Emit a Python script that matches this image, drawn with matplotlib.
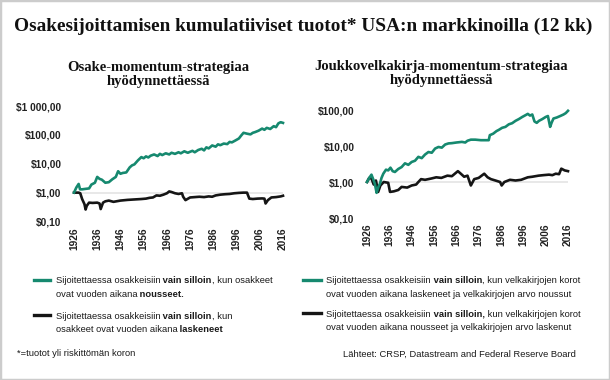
import matplotlib
matplotlib.use('Agg')
import matplotlib.pyplot as plt
from matplotlib import font_manager
from matplotlib.lines import Line2D
from matplotlib.patches import Rectangle

# --- data ---
stock_years_up = [1926, 1927, 1928, 1928.6, 1929.5, 1931, 1932.5, 1933.5, 1935, 1936, 1937, 1938,
                  1939.5, 1941, 1942.5, 1944, 1945, 1946, 1947, 1948.5, 1950, 1951, 1952, 1953.5,
                  1955, 1956, 1957, 1958, 1959, 1960.5, 1962, 1963, 1964, 1965.5, 1967, 1968,
                  1969.5, 1971, 1972, 1973.5, 1975, 1976, 1977, 1978, 1979.5, 1981, 1982, 1983,
                  1984, 1985.5, 1987, 1988, 1989, 1990.5, 1992, 1993, 1994, 1995.5, 1997, 1998,
                  1999, 2000.5, 2002, 2003, 2004, 2005.5, 2007, 2008, 2009, 2010.5, 2012, 2013,
                  2014, 2015, 2016]
stock_up = [1.0, 1.5, 2.0, 1.3, 1.3, 1.35, 1.4, 1.9, 2.2, 3.5, 3.0, 2.8,
            2.2, 2.3, 2.9, 3.5, 5.5, 4.5, 4.8, 5.0, 7.5, 8.8, 9.5, 13,
            17, 15.5, 18, 16.5, 19, 21, 18.5, 22, 20, 23, 21, 24,
            22, 25, 23, 27, 24, 26, 28, 25, 30, 33, 29, 37,
            34, 43, 39, 47, 44, 50, 48, 57, 55, 64, 75, 95,
            118, 110, 104, 118, 125, 140, 165, 150, 175, 160, 200, 185,
            250, 275, 260]

stock_years_down = [1926, 1928, 1928.7, 1929.5, 1930.5, 1931, 1931.5, 1932.5, 1934, 1936, 1937,
                    1937.5, 1938.5, 1939.5, 1941, 1943, 1946, 1949, 1952, 1955, 1957, 1958.5,
                    1960, 1961.5, 1963, 1964.5, 1966, 1967, 1968, 1969.5, 1971, 1972.5, 1973,
                    1974, 1976, 1978, 1980, 1982, 1984, 1985.5, 1987, 1989, 1991, 1993, 1995,
                    1997, 1999, 2000.5, 2001.5, 2003, 2005, 2007, 2008, 2008.5, 2009.5, 2011,
                    2013, 2015, 2016]
stock_down = [1.0, 1.0, 0.95, 0.6, 0.4, 0.26, 0.35, 0.45, 0.44, 0.45, 0.42,
              0.27, 0.45, 0.5, 0.53, 0.48, 0.53, 0.56, 0.58, 0.6, 0.62, 0.66,
              0.68, 0.8, 0.78, 0.85, 0.95, 1.1, 1.05, 0.95, 0.9, 0.95, 0.72,
              0.55, 0.68, 0.7, 0.72, 0.7, 0.74, 0.72, 0.8, 0.85, 0.88, 0.9, 0.95,
              0.98, 1.0, 1.0, 0.62, 0.6, 0.62, 0.63, 0.62, 0.42, 0.55, 0.68,
              0.7, 0.74, 0.78]

bond_years_up = [1926, 1927, 1928, 1929, 1929.5, 1930.3, 1931, 1931.8, 1932.5, 1933.3, 1934.5,
                 1935.5, 1936.5, 1937.5, 1938.5, 1940, 1941.5, 1943, 1944.5, 1946, 1947.5, 1949,
                 1950.5, 1952, 1953.5, 1955, 1956.5, 1958, 1959.5, 1961, 1962.5, 1964, 1966,
                 1968.5, 1970, 1971, 1972.5, 1974.5, 1977, 1980.5, 1981, 1982.5, 1984, 1985,
                 1986.5, 1988, 1989.5, 1991, 1992.5, 1994, 1995.5, 1997, 1998, 1999, 2000,
                 2001, 2002, 2003, 2004.5, 2006, 2007, 2008, 2008.7, 2009.5, 2011, 2012.5,
                 2014, 2015, 2016]
bond_up = [1.0, 1.3, 1.6, 1.1, 0.9, 0.5, 0.7, 0.9, 1.3, 1.7, 2.2,
           2.1, 2.5, 2.0, 1.9, 2.3, 2.6, 3.3, 3.0, 3.6, 3.9, 5.0,
           4.6, 5.8, 6.8, 6.5, 8.5, 9.4, 9.0, 11, 11.8, 12, 12.5,
           13, 12.5, 14, 15, 15, 14.5, 14.5, 20, 22, 26, 28,
           32, 34, 40, 43, 50, 56, 64, 72, 78, 70, 75,
           48, 44, 50, 56, 64, 68, 34, 45, 58, 62, 68,
           75, 82, 95]

bond_years_down = [1926, 1927, 1928, 1929, 1930, 1931, 1932, 1933.5, 1935.5, 1936.3, 1938,
                   1940, 1941.5, 1944, 1946, 1948, 1949, 1950.2, 1952, 1954.8, 1957, 1959.3,
                   1962, 1964, 1966.7, 1968, 1969.5, 1971, 1972.5, 1974, 1976, 1978.5, 1980,
                   1981.5, 1983.5, 1985.6, 1986.3, 1987.5, 1990, 1992.5, 1995, 1998, 2000,
                   2002.8, 2005, 2007.5, 2009, 2010.5, 2012, 2013, 2014.5, 2016]
bond_down = [1.0, 1.3, 1.25, 0.85, 1.1, 0.53, 0.8, 1.0, 0.95, 0.53, 0.55,
             0.6, 0.73, 0.7, 0.8, 0.85, 1.0, 1.2, 1.15, 1.25, 1.35, 1.3,
             1.5, 1.45, 2.0, 1.7, 1.4, 1.5, 0.8, 1.2, 1.3, 1.7, 1.35,
             1.2, 1.1, 1.0, 0.8, 1.0, 1.15, 1.1, 1.15, 1.35, 1.4,
             1.5, 1.55, 1.6, 1.55, 1.7, 1.65, 2.35, 2.1, 2.0]

year_ticks = list(range(1926, 2017, 10))
left_yticks = [0.1, 1, 10, 100, 1000]
left_ylabels = ['$0,10', '$1,00', '$10,00', '$100,00', '$1 000,00']
right_yticks = [0.1, 1, 10, 100]
right_ylabels = ['$0,10', '$1,00', '$10,00', '$100,00']

GREEN = '#16896f'
BLACK = '#151515'
W, H = 610, 380

names = {f.name for f in font_manager.fontManager.ttflist}
if 'Liberation Sans Narrow' in names:
    SANS = 'Liberation Sans Narrow'
    LEG_SIZE, TICK_SIZE = 7.3, 7.6
else:
    SANS = 'Liberation Sans'
    LEG_SIZE, TICK_SIZE = 6.75, 7.3
SERIF = 'Liberation Serif'

fig = plt.figure(figsize=(6.1, 3.8), dpi=100)


def px_axes(x0, y0, x1, y1):
    # pixel box, origin top-left
    return fig.add_axes([x0 / W, 1 - y1 / H, (x1 - x0) / W, (y1 - y0) / H])


def style_axes(ax, yticks, ylabels, ylim):
    ax.set_yscale('log')
    ax.set_xlim(1926, 2016)
    ax.set_ylim(*ylim)
    ax.set_yticks(yticks)
    ax.set_yticklabels(ylabels)
    ax.minorticks_off()
    ax.set_xticks(year_ticks)
    ax.set_xticklabels([str(y) for y in year_ticks], rotation=90)
    for lab in ax.get_xticklabels() + ax.get_yticklabels():
        lab.set_fontfamily(SANS)
        lab.set_fontweight('bold')
        lab.set_fontsize(TICK_SIZE)
        lab.set_color('#222222')
    ax.tick_params(axis='both', length=0)
    ax.tick_params(axis='y', pad=9)
    ax.tick_params(axis='x', pad=4)
    for s in ax.spines.values():
        s.set_visible(False)
    ax.patch.set_alpha(0)
    ax.plot([1926, 2016], [1, 1], color='#e8e8e8', lw=1.4, zorder=1)


ax1 = px_axes(74, 106, 283, 221.5)
style_axes(ax1, left_yticks, left_ylabels, (0.1, 1000))
ax1.plot(stock_years_down, stock_down, color=BLACK, lw=1.9, clip_on=False, zorder=3)
ax1.plot(stock_years_up, stock_up, color=GREEN, lw=1.9, clip_on=False, zorder=4)

ax2 = px_axes(367, 110, 568, 218)
style_axes(ax2, right_yticks, right_ylabels, (0.1, 100))
ax2.plot(bond_years_down, bond_down, color=BLACK, lw=1.9, clip_on=False, zorder=3)
ax2.plot(bond_years_up, bond_up, color=GREEN, lw=1.9, clip_on=False, zorder=4)

# titles
fig.text(303 / W, 1 - 26 / H, 'Osakesijoittamisen kumulatiiviset tuotot* USA:n markkinoilla (12 kk)',
         family=SERIF, fontweight='bold', fontsize=13.9, ha='center', va='center', color='#111111')
fig.text(158 / W, 1 - 74.5 / H, 'Osake-momentum-strategiaa\nhyödynnettäessä',
         family=SERIF, fontweight='bold', fontsize=10.5, ha='center', va='center',
         linespacing=1.05, color='#111111')
fig.text(441 / W, 1 - 73.5 / H, 'Joukkovelkakirja-momentum-strategiaa\nhyödynnettäessä',
         family=SERIF, fontweight='bold', fontsize=10.5, ha='center', va='center',
         linespacing=1.05, color='#111111')

renderer = fig.canvas.get_renderer()


def rich_line(x, y, parts):
    # draw regular/bold pieces one after another on one line
    for txt, bold in parts:
        t = fig.text(x / W, 1 - y / H, txt, family=SANS, fontsize=LEG_SIZE,
                     fontweight='bold' if bold else 'normal', ha='left', va='center',
                     color='#1a1a1a')
        x += t.get_window_extent(renderer).width


def legend_key(x0, x1, y, color):
    fig.add_artist(Line2D([x0 / W, x1 / W], [1 - y / H, 1 - y / H], color=color, lw=2.4,
                          transform=fig.transFigure))


legend_key(34, 50, 279.5, GREEN)
rich_line(55.7, 280.7, [('Sijoitettaessa osakkeisiin', False), (' vain silloin', True),
                        (', kun osakkeet', False)])
rich_line(55.7, 294.3, [('ovat vuoden aikana', False), (' nousseet.', True)])
legend_key(34, 50, 315, BLACK)
rich_line(55.7, 316.7, [('Sijoitettaessa osakkeisiin', False), (' vain silloin', True),
                        (', kun', False)])
rich_line(55.7, 330, [('osakkeet ovat vuoden aikana', False), (' laskeneet', True)])

legend_key(303, 321, 279.5, GREEN)
rich_line(326, 280.7, [('Sijoitettaessa osakkeisiin', False), (' vain silloin', True),
                       (', kun velkakirjojen korot', False)])
rich_line(326, 294.3, [('ovat vuoden aikana laskeneet ja velkakirjojen arvo noussut', False)])
legend_key(303, 321, 313, BLACK)
rich_line(326, 314.3, [('Sijoitettaessa osakkeisiin', False), (' vain silloin,', True),
                       (' kun velkakirjojen korot', False)])
rich_line(326, 327.7, [('ovat vuoden aikana nousseet ja velkakirjojen arvo laskenut', False)])

rich_line(17, 354, [('*=tuotot yli riskittömän koron', False)])
rich_line(343, 354, [('Lähteet: CRSP, Datastream and Federal Reserve Board', False)])

fig.add_artist(Rectangle((0, 0), 1, 1, transform=fig.transFigure, fill=False,
                         edgecolor='#cccccc', lw=2.5))

fig.savefig('out.png', dpi=100)
